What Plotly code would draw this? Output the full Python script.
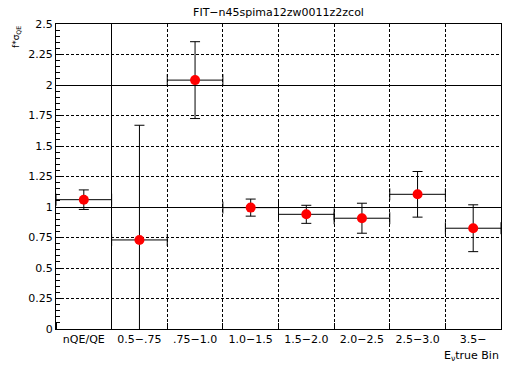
import plotly.graph_objects as go

# ---- data ----
bin_labels = ["nQE/QE", "0.5\u2212.75", ".75\u22121.0", "1.0\u22121.5",
              "1.5\u22122.0", "2.0\u22122.5", "2.5\u22123.0", "3.5\u2212"]
bin_centers = [0.5, 1.5, 2.5, 3.5, 4.5, 5.5, 6.5, 7.5]
bin_halfwidth = [0.5, 0.5, 0.5, 0.5, 0.5, 0.5, 0.5, 0.5]
values = [1.06, 0.73, 2.04, 0.995, 0.94, 0.908, 1.104, 0.826]
errors = [0.08, 0.94, 0.315, 0.07, 0.074, 0.123, 0.187, 0.192]
y_ticks = [0, 0.25, 0.5, 0.75, 1, 1.25, 1.5, 1.75, 2, 2.25, 2.5]
y_ticklabels = ["0", "0.25", "0.5", "0.75", "1", "1.25", "1.5", "1.75", "2", "2.25", "2.5"]
solid_y_lines = [1, 2]
solid_x_lines = [1]

FONT = "DejaVu Sans"
X_RANGE = [0, 8]
Y_RANGE = [0, 2.5]

fig = go.Figure()
# invisible trace to hold the overlay axes (solid reference lines)
fig.add_trace(go.Scatter(x=bin_centers, y=values, xaxis="x2", yaxis="y2",
                         mode="markers", marker=dict(opacity=0),
                         hoverinfo="skip", showlegend=False))
fig.add_trace(go.Scatter(
    x=bin_centers, y=values, mode="markers",
    marker=dict(color="red", size=10, symbol="circle"),
    error_y=dict(type="data", array=errors, visible=True, color="black",
                 thickness=1, width=5),
    error_x=dict(type="data", array=bin_halfwidth, visible=True, color="black",
                 thickness=1, width=6),
    showlegend=False,
))

fig.update_layout(
    width=512, height=372,
    margin=dict(l=56, r=11, t=24, b=43),
    paper_bgcolor="white", plot_bgcolor="white",
    font=dict(family=FONT, size=11, color="black"),
    title=dict(text="FIT\u2212n45spima12zw0011z2zcol", x=278.5 / 512,
               xanchor="center", y=1 - 12 / 372, yanchor="middle",
               font=dict(family=FONT, size=11, color="black")),
    xaxis=dict(range=X_RANGE, tickmode="array", tickvals=bin_centers, ticktext=bin_labels,
               showgrid=False, ticks="", zeroline=False,
               showline=True, linecolor="black", linewidth=1, mirror=True,
               tickfont=dict(family=FONT, size=11),
               minor=dict(tickmode="linear", tick0=0, dtick=1, showgrid=True,
                          gridcolor="black", gridwidth=1, griddash="3px,2px",
                          ticks="inside", ticklen=6, tickcolor="black")),
    yaxis=dict(range=Y_RANGE, tickmode="array", tickvals=y_ticks, ticktext=y_ticklabels,
               showgrid=True, gridcolor="black", gridwidth=1, griddash="3px,2px",
               ticks="inside", ticklen=8, tickcolor="black", zeroline=False,
               showline=True, linecolor="black", linewidth=1, mirror=True,
               tickfont=dict(family=FONT, size=11),
               minor=dict(tickmode="linear", tick0=0, dtick=0.05, ticks="inside",
                          ticklen=4, tickcolor="black", showgrid=False)),
    xaxis2=dict(range=X_RANGE, overlaying="x", anchor="y", tickmode="array",
                tickvals=solid_x_lines, showticklabels=False, ticks="",
                showgrid=True, gridcolor="black", gridwidth=1, zeroline=False,
                showline=False),
    yaxis2=dict(range=Y_RANGE, overlaying="y", anchor="x", tickmode="array",
                tickvals=solid_y_lines, showticklabels=False, ticks="",
                showgrid=True, gridcolor="black", gridwidth=1, zeroline=False,
                showline=False),
    annotations=[
        dict(text="f*\u03c3<sub>QE</sub>", xref="paper", yref="paper",
             x=-40 / 445, y=1.0, xanchor="center", yanchor="top", textangle=-90,
             showarrow=False, font=dict(family=FONT, size=9, color="black")),
        dict(text="E<sub>\u03bd</sub>true Bin", xref="paper", yref="paper",
             x=1.0, y=-27 / 305, xanchor="right", yanchor="middle",
             showarrow=False, font=dict(family=FONT, size=11, color="black")),
    ],
)

fig.write_html("out.html", config={"displayModeBar": False},
               post_script="document.body.style.margin='0';")
